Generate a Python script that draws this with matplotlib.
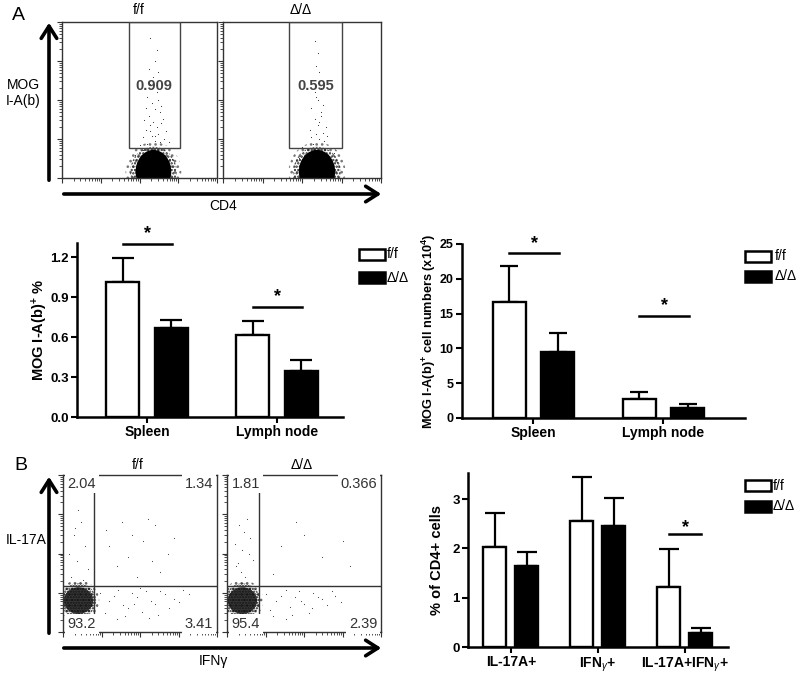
import matplotlib
matplotlib.use("Agg")
import matplotlib.pyplot as plt
from matplotlib.patches import Rectangle, Ellipse, FancyArrowPatch
import numpy as np

plt.rcParams['font.family'] = ['Liberation Sans', 'DejaVu Sans']
plt.rcParams['mathtext.fontset'] = 'custom'
plt.rcParams['mathtext.rm'] = 'Liberation Sans'
plt.rcParams['mathtext.it'] = 'Liberation Sans:italic'
plt.rcParams['mathtext.bf'] = 'Liberation Sans:bold'
plt.rcParams['hatch.linewidth'] = 1.1

# ---------------- data ----------------
groups = ["f/f", "Δ/Δ"]
tissues = ["Spleen", "Lymph node"]

pct_mean_ff = [1.01, 0.615]
pct_mean_dd = [0.668, 0.347]
pct_err_ff = [0.185, 0.105]
pct_err_dd = [0.062, 0.083]
pct_sig_y = [1.30, 0.825]
pct_star_y = [1.375, 0.905]
pct_ticks = [0.0, 0.3, 0.6, 0.9, 1.2]

num_mean_ff = [16.7, 2.73]
num_mean_dd = [9.5, 1.5]
num_err_ff = [5.1, 1.07]
num_err_dd = [2.7, 0.47]
num_sig_y = [23.66, 14.7]
num_star_y = [25.1, 16.2]
num_ticks = [0, 5, 10, 15, 20, 25]

cytokines = ["IL-17A+", r"IFN$_\gamma$+", r"IL-17A+IFN$_\gamma$+"]
cyto_mean_ff = [2.02, 2.555, 1.21]
cyto_mean_dd = [1.64, 2.45, 0.28]
cyto_err_ff = [0.69, 0.885, 0.78]
cyto_err_dd = [0.28, 0.57, 0.10]
cyto_sig_idx = [2]
cyto_sig_y = [2.285]
cyto_star_y = [2.43]
cyto_ticks = [0, 1, 2, 3]

gate_pct = ["0.909", "0.595"]
quad_ff = ["2.04", "1.34", "93.2", "3.41"]
quad_dd = ["1.81", "0.366", "95.4", "2.39"]

# sparse events (axes-fraction units)
a_ff_x = [0.55, 0.60, 0.58, 0.63, 0.52, 0.57, 0.61, 0.66, 0.54, 0.59, 0.62, 0.56, 0.64, 0.60, 0.53,
          0.58, 0.67, 0.55, 0.61, 0.57, 0.63, 0.59, 0.62, 0.56, 0.60, 0.65, 0.58, 0.54, 0.61, 0.57,
          0.59, 0.62, 0.60, 0.57, 0.64, 0.50, 0.69, 0.47, 0.71, 0.52]
a_ff_y = [0.22, 0.24, 0.27, 0.23, 0.26, 0.30, 0.33, 0.25, 0.31, 0.36, 0.28, 0.40, 0.35, 0.44, 0.37,
          0.48, 0.30, 0.52, 0.55, 0.60, 0.42, 0.65, 0.50, 0.70, 0.75, 0.38, 0.58, 0.45, 0.82, 0.90,
          0.62, 0.68, 0.27, 0.34, 0.46, 0.21, 0.23, 0.15, 0.12, 0.18]
a_dd_x = [0.57, 0.61, 0.59, 0.64, 0.55, 0.60, 0.63, 0.58, 0.62, 0.56, 0.65, 0.60, 0.58, 0.62, 0.57,
          0.61, 0.59, 0.63, 0.60, 0.58, 0.62, 0.56, 0.61, 0.66, 0.59, 0.50, 0.70, 0.48, 0.72]
a_dd_y = [0.22, 0.25, 0.28, 0.24, 0.31, 0.34, 0.29, 0.38, 0.42, 0.45, 0.33, 0.50, 0.55, 0.58, 0.63,
          0.68, 0.72, 0.47, 0.80, 0.88, 0.40, 0.26, 0.36, 0.27, 0.52, 0.20, 0.16, 0.13, 0.10]
b_ff_x = [0.05, 0.09, 0.14, 0.07, 0.12, 0.16, 0.10, 0.04, 0.13, 0.08,
          0.30, 0.38, 0.45, 0.52, 0.60, 0.68, 0.35, 0.42, 0.55, 0.63, 0.28, 0.48, 0.72, 0.58,
          0.24, 0.30, 0.36, 0.42, 0.48, 0.54, 0.60, 0.66, 0.72, 0.78, 0.27, 0.33, 0.39, 0.45,
          0.51, 0.57, 0.63, 0.69, 0.75, 0.40, 0.50, 0.62, 0.82, 0.35, 0.46, 0.56]
b_ff_y = [0.35, 0.45, 0.55, 0.62, 0.70, 0.40, 0.78, 0.50, 0.33, 0.66,
          0.55, 0.70, 0.62, 0.58, 0.68, 0.50, 0.42, 0.48, 0.72, 0.38, 0.65, 0.35, 0.60, 0.45,
          0.25, 0.20, 0.27, 0.15, 0.22, 0.26, 0.18, 0.24, 0.21, 0.27, 0.12, 0.23, 0.17, 0.25,
          0.13, 0.20, 0.26, 0.15, 0.19, 0.10, 0.28, 0.11, 0.24, 0.08, 0.18, 0.09]
b_dd_x = [0.06, 0.10, 0.15, 0.08, 0.12, 0.17, 0.05, 0.13, 0.09, 0.14, 0.11, 0.07,
          0.35, 0.50, 0.62, 0.75, 0.45, 0.80, 0.30,
          0.25, 0.32, 0.38, 0.44, 0.50, 0.56, 0.62, 0.68, 0.74, 0.28, 0.35, 0.41, 0.47,
          0.53, 0.59, 0.65, 0.30, 0.42, 0.55, 0.70, 0.38, 0.48]
b_dd_y = [0.42, 0.52, 0.60, 0.68, 0.35, 0.46, 0.56, 0.72, 0.38, 0.50, 0.64, 0.44,
          0.55, 0.62, 0.48, 0.58, 0.70, 0.42, 0.37,
          0.24, 0.20, 0.27, 0.22, 0.18, 0.25, 0.21, 0.26, 0.19, 0.14, 0.23, 0.16, 0.26,
          0.12, 0.22, 0.17, 0.10, 0.11, 0.15, 0.23, 0.08, 0.20]

# ---------------- figure ----------------
W, H = 800, 677
fig = plt.figure(figsize=(W / 100, H / 100), dpi=100)
fig.patch.set_facecolor('white')


def px_axes(x0, y0, x1, y1):
    return fig.add_axes([x0 / W, 1 - y1 / H, (x1 - x0) / W, (y1 - y0) / H])


def ftext(x, y, s, **kw):
    fig.text(x / W, 1 - y / H, s, **kw)


def farrow(x0, y0, x1, y1):
    a = FancyArrowPatch((x0 / W, 1 - y0 / H), (x1 / W, 1 - y1 / H), transform=fig.transFigure,
                        arrowstyle='->,head_length=0.55,head_width=0.35', mutation_scale=16,
                        lw=2.6, color='black')
    fig.add_artist(a)


log_major = [d / 4 for d in range(5)]
log_minor = [(d + np.log10(k)) / 4 for d in range(4) for k in range(2, 10)]


def flow_frame(ax):
    ax.set_xlim(0, 1)
    ax.set_ylim(0, 1)
    for s in ax.spines.values():
        s.set_linewidth(1.0)
        s.set_color('#333333')
    ax.set_xticks(log_major)
    ax.set_xticks(log_minor, minor=True)
    ax.set_yticks(log_major)
    ax.set_yticks(log_minor, minor=True)
    ax.tick_params(which='major', direction='out', length=3.5, width=0.8, color='#333333',
                   labelbottom=False, labelleft=False)
    ax.tick_params(which='minor', direction='out', length=2, width=0.6, color='#333333')


def speckle(ax, cx, cy, w, h, hatch, color):
    ax.add_patch(Ellipse((cx, cy), w, h, facecolor='none', edgecolor=color, lw=0,
                         hatch=hatch, zorder=1))


# ---- Panel A dot plots ----
a_panels = [(62, 22, 217, 178), (223, 22, 381, 178)]
a_gate = [(0.43, 0.76), (0.42, 0.75)]
a_dots = [(a_ff_x, a_ff_y), (a_dd_x, a_dd_y)]
a_blob = [(0.59, 0.04), (0.595, 0.04)]
for i, box in enumerate(a_panels):
    ax = px_axes(*box)
    flow_frame(ax)
    gx0, gx1 = a_gate[i]
    ax.add_patch(Rectangle((gx0, 0.19), gx1 - gx0, 0.81, fill=False, ec='#444444', lw=1.0, zorder=3))
    cx, cy = a_blob[i]
    speckle(ax, cx, cy, 0.36, 0.38, '...', '#777777')
    speckle(ax, cx, cy, 0.30, 0.32, '.....', '#222222')
    ax.add_patch(Ellipse((cx, cy), 0.23, 0.28, facecolor='black', lw=0, zorder=1))
    ax.scatter(a_dots[i][0], a_dots[i][1], s=0.6, c='#222222', lw=0, zorder=2)
    ax.text((gx0 + gx1) / 2, 0.59, gate_pct[i], ha='center', va='center', fontsize=10.5,
            fontweight='bold', color='#444444', zorder=4)
    ftext((box[0] + box[2]) / 2 - 1, 10, groups[i], ha='center', va='center', fontsize=10)

farrow(49, 183, 49, 20)
farrow(61, 194, 384, 194)
ftext(18, 16, "A", ha='center', va='center', fontsize=14)
ftext(23, 93, "MOG\nI-A(b)", ha='center', va='center', fontsize=10, linespacing=1.2)
ftext(223, 206, "CD4", ha='center', va='center', fontsize=10)

# ---- Panel B dot plots ----
b_panels = [(63, 475, 217, 632), (227, 475, 381, 632)]
b_qx = [0.20, 0.21]
b_dots = [(b_ff_x, b_ff_y), (b_dd_x, b_dd_y)]
b_quads = [quad_ff, quad_dd]
for i, box in enumerate(b_panels):
    ax = px_axes(*box)
    flow_frame(ax)
    qx = b_qx[i]
    ax.axvline(qx, color='#333333', lw=1.0, zorder=3)
    ax.axhline(0.295, color='#333333', lw=1.0, zorder=3)
    speckle(ax, 0.1, 0.2, 0.27, 0.26, '...', '#666666')
    speckle(ax, 0.1, 0.2, 0.23, 0.22, '......', '#111111')
    ax.add_patch(Ellipse((0.1, 0.20), 0.19, 0.17, facecolor='#151515', alpha=0.85, lw=0, zorder=1))
    ax.scatter(b_dots[i][0], b_dots[i][1], s=0.6, c='#333333', lw=0, zorder=2)
    q = b_quads[i]
    bb = dict(boxstyle='square,pad=0.2', fc='white', ec='none')
    kw = dict(fontsize=10.5, color='#333333', zorder=5, bbox=bb)
    ax.text(0.03, 0.99, q[0], ha='left', va='top', **kw)
    ax.text(0.975, 0.99, q[1], ha='right', va='top', **kw)
    ax.text(0.03, 0.005, q[2], ha='left', va='bottom', **kw)
    ax.text(0.975, 0.005, q[3], ha='right', va='bottom', **kw)
    ftext((box[0] + box[2]) / 2 - 2, 465, groups[i], ha='center', va='center', fontsize=10)

farrow(49, 636, 49, 474)
farrow(61, 648, 384, 648)
ftext(21, 466, "B", ha='center', va='center', fontsize=14)
ftext(26, 540, "IL-17A", ha='center', va='center', fontsize=10)
ftext(213, 661, "IFNγ", ha='center', va='center', fontsize=10)


# ---- bar charts ----
def bar_chart(box, cats, mff, mdd, eff, edd, ticks, ylim, xlim, off, width, fmt, ylabel,
              sig_idx, sig_y, star_y, capsize, ylabel_size, ylabel_x, ytick_size):
    ax = px_axes(*box)
    x = np.arange(len(cats))
    ax.bar(x - off, mff, width, color='white', edgecolor='black', lw=1.7, zorder=2)
    ax.bar(x + off, mdd, width, color='black', edgecolor='black', lw=1.7, zorder=2)
    ax.errorbar(x - off, mff, yerr=[np.zeros(len(cats)), eff], fmt='none', ecolor='black',
                elinewidth=1.6, capsize=capsize, capthick=1.6, zorder=1)
    ax.errorbar(x + off, mdd, yerr=[np.zeros(len(cats)), edd], fmt='none', ecolor='black',
                elinewidth=1.6, capsize=capsize, capthick=1.6, zorder=1)
    for j, k in enumerate(sig_idx):
        ax.plot([k - off, k + off * 1.05], [sig_y[j], sig_y[j]], color='black', lw=1.8, clip_on=False)
        ax.text(k + 0.005, star_y[j], "*", ha='center', va='center', fontsize=13,
                fontweight='bold', clip_on=False)
    ax.set_xlim(*xlim)
    ax.set_ylim(*ylim)
    ax.set_xticks(x)
    ax.set_xticklabels(cats, fontsize=10, fontweight='bold')
    ax.set_yticks(ticks)
    ax.set_yticklabels([fmt.format(t) for t in ticks], fontsize=ytick_size, fontweight='bold')
    for s in ['top', 'right']:
        ax.spines[s].set_visible(False)
    for s in ['left', 'bottom']:
        ax.spines[s].set_linewidth(1.8)
    ax.tick_params(direction='out', length=4, width=1.5, pad=2)
    ax.set_ylabel(ylabel, fontsize=ylabel_size, fontweight='bold', va='center')
    ax.yaxis.set_label_coords(ylabel_x, 0.5)
    return ax


def legend(x, y0, y1, tx):
    for yy, fc, lab in [(y0, 'white', groups[0]), (y1, 'black', groups[1])]:
        fig.add_artist(Rectangle((x / W, 1 - (yy + 11) / H), 26 / W, 11 / H, transform=fig.transFigure,
                                 facecolor=fc, edgecolor='black', lw=1.8))
        ftext(tx, yy + 5.5, lab, ha='left', va='center', fontsize=10)


bar_chart((77, 243, 343, 417), tissues, pct_mean_ff, pct_mean_dd, pct_err_ff, pct_err_dd,
          pct_ticks, (0, 1.305), (-0.538, 1.508), 0.187, 0.254, "{:.1f}",
          r"MOG I-A(b)$^{\mathbf{+}}$ %", [0, 1], pct_sig_y, pct_star_y, 8, 10.5, -0.14, 9.5)
legend(359, 249, 272, 387)

bar_chart((462, 244, 745, 418), tissues, num_mean_ff, num_mean_dd, num_err_ff, num_err_dd,
          num_ticks, (0, 25), (-0.55, 1.627), 0.185, 0.254, "{:d}",
          r"MOG I-A(b)$^{\mathbf{+}}$ cell numbers (x10$^{\mathbf{4}}$)", [0, 1], num_sig_y, num_star_y,
          6.5, 9.2, -0.118, 9)
legend(745, 251, 271, 775)

bar_chart((468, 473, 728, 647), cytokines, cyto_mean_ff, cyto_mean_dd, cyto_err_ff, cyto_err_dd,
          cyto_ticks, (0, 3.53), (-0.494, 2.5), 0.184, 0.264, "{:d}",
          "% of CD4+ cells", cyto_sig_idx, cyto_sig_y, cyto_star_y, 7.2, 10.5, -0.119, 9.5)
legend(745, 480, 501, 773)

fig.savefig("out.png", dpi=100, facecolor='white')
